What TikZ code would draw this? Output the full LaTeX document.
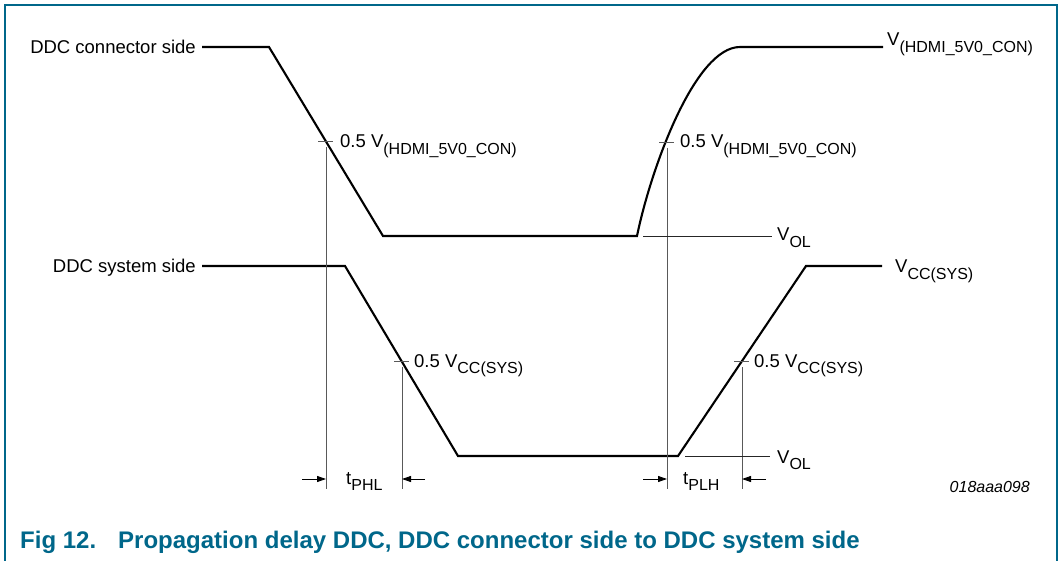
\documentclass[tikz,border=0pt]{standalone}
\usepackage{fontspec}
\setmainfont{Liberation Sans}
\usepackage{xcolor}
\usepackage{tikz}
\usetikzlibrary{arrows.meta,positioning}

\definecolor{nxpteal}{RGB}{0,103,138}

% level name with a lowered, smaller index
\newcommand{\lvl}[2]{#1\raisebox{-0.33em}{\fontsize{16}{18}\selectfont #2}}

\tikzset{
    signal/.style={line width=2.1pt, line join=miter},
    guide/.style={line width=0.9pt, black!65},
    level/.style={line width=0.9pt, black!85},
    delay/.style={line width=0.9pt, -{Triangle[length=9pt,width=6pt]}},
    txt/.style={inner sep=0pt, font=\fontsize{18.5}{20}\selectfont}
}

\begin{document}
\begin{tikzpicture}[x=1pt,y=-1pt]
                \useasboundingbox (0,0) rectangle (1063,561);

                % frame
                \draw[
                    nxpteal,
                    line width=1.2pt
                ] (5,561) -- (5,5) -- (1057,5) -- (1057,561);

                % waveform points
                \coordinate (conA) at (202,47);
                \coordinate (conB) at (269,47);
                \coordinate (conC) at (383,236);
                \coordinate (conD) at (637,236);
                \coordinate (conE) at (740,47);
                \coordinate (conF) at (883,47);
                \coordinate (sysA) at (202,266);
                \coordinate (sysB) at (345,266);
                \coordinate (sysC) at (458,456);
                \coordinate (sysD) at (678,456);
                \coordinate (sysE) at (806,266);
                \coordinate (sysF) at (882,266);

                % 50 % points
                \coordinate (midHL) at (326,141.5);
                \coordinate (midLH) at (667,142);
                \coordinate (sysHL) at (402,361);
                \coordinate (sysLH) at (742,361);

                \draw[signal] (conA) -- (conB) -- (conC) -- (conD)
                    .. controls (651,168) and (695,47) .. (conE) -- (conF);
                \draw[signal] (sysA) -- (sysB) -- (sysC) -- (sysD) -- (sysE) -- (sysF);

                % guides and ticks
                \foreach \p in {midHL,midLH,sysHL,sysLH}{
                    \draw[guide] ([yshift=-6pt]\p) -- ([yshift=-6pt]\p |- 0,483);
                    \draw[guide] ([xshift=-8pt]\p) -- ([xshift=7pt]\p);
                }

                % V_OL levels
                \coordinate (olTopA) at (643,236);
                \coordinate (olTopB) at (772,236);
                \coordinate (olBotA) at (685,456);
                \coordinate (olBotB) at (770,456);
                \draw[level] (olTopA) -- (olTopB);
                \draw[level] (olBotA) -- (olBotB);

                % delay arrows
                \coordinate (phlL) at (302,479);
                \coordinate (phlR) at (425,479);
                \coordinate (plhL) at (643,479);
                \coordinate (plhR) at (766,479);
                \draw[delay] (phlL) -- (326,479);
                \draw[delay] (phlR) -- (402,479);
                \draw[delay] (plhL) -- (667,479);
                \draw[delay] (plhR) -- (742,479);

                % labels
                \node[txt, anchor=base east] (conName) at (196,54) {DDC connector side};
                \node[txt, anchor=base east] (sysName) at (196,273) {DDC system side};
                \node[txt, anchor=base west] (halfHL) at (340,148) {\lvl{0.5 V}{(HDMI\_5V0\_CON)}};
                \node[txt, anchor=base west] (halfLH) at (680,148) {\lvl{0.5 V}{(HDMI\_5V0\_CON)}};
                \node[txt, anchor=base west] (halfSysHL) at (414,367) {\lvl{0.5 V}{CC(SYS)}};
                \node[txt, anchor=base west] (halfSysLH) at (754,367) {\lvl{0.5 V}{CC(SYS)}};
                \node[txt, anchor=base west] (vHigh) at (887,46) {\lvl{V}{(HDMI\_5V0\_CON)}};
                \node[txt, anchor=base west] (vCC) at (895,273) {\lvl{V}{CC(SYS)}};
                \node[txt, anchor=base west] (volTop) at (777,241) {\lvl{V}{OL}};
                \node[txt, anchor=base west] (volBot) at (777,463) {\lvl{V}{OL}};
                \node[txt, anchor=base west] (tPHL) at (346,484) {\lvl{t}{PHL}};
                \node[txt, anchor=base west] (tPLH) at (683,484) {\lvl{t}{PLH}};
                \node[inner sep=0pt, anchor=base east, font=\fontsize{16}{18}\selectfont\itshape]
                    (figId) at (1030,492) {018aaa098};

                % caption
                \node[
                    inner sep=0pt,
                    anchor=base west,
                    text=nxpteal,
                    font=\fontsize{24}{27}\selectfont\bfseries
                ] (caption) at (20,548) {Fig 12.\hspace{22pt}Propagation delay DDC, DDC connector side to DDC system side};

\end{tikzpicture}
\end{document}
